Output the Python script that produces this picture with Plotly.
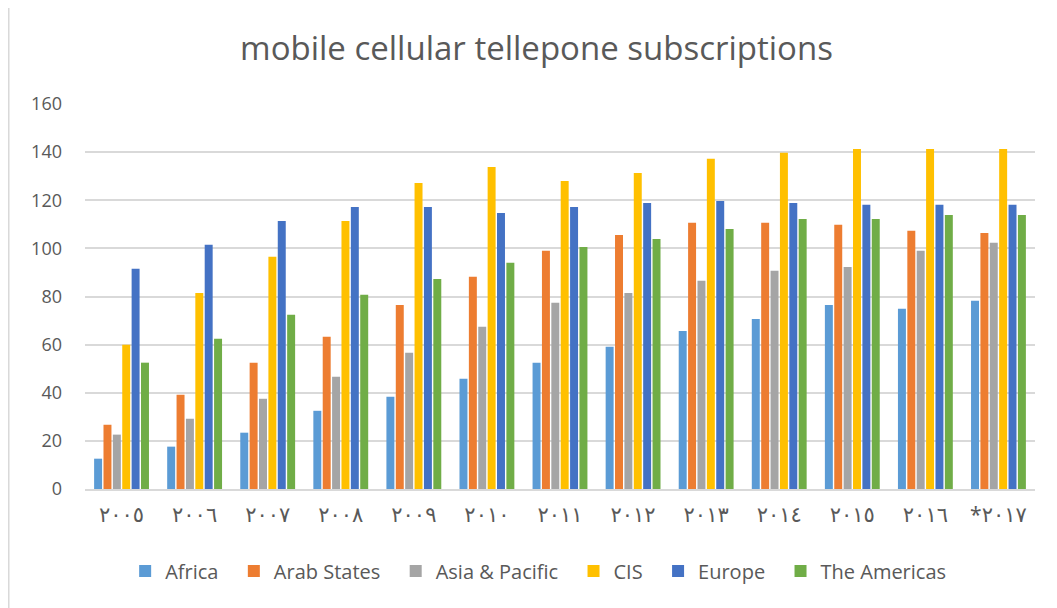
import plotly.graph_objects as go

years = ["٢٠٠٥", "٢٠٠٦", "٢٠٠٧", "٢٠٠٨", "٢٠٠٩", "٢٠١٠", "٢٠١١", "٢٠١٢",
         "٢٠١٣", "٢٠١٤", "٢٠١٥", "٢٠١٦", "*٢٠١٧"]

africa = [12.6, 17.6, 23.4, 32.5, 38.3, 45.8, 52.5, 59.1, 65.7, 70.7, 76.5, 74.9, 78.2]
arab_states = [26.7, 39.2, 52.5, 63.3, 76.5, 88.2, 99.0, 105.6, 110.6, 110.6, 109.8, 107.3, 106.4]
asia_pacific = [22.6, 29.2, 37.5, 46.6, 56.6, 67.4, 77.4, 81.5, 86.5, 90.7, 92.3, 99.0, 102.3]
cis = [59.9, 81.5, 96.5, 111.4, 127.2, 133.8, 128.0, 131.3, 137.2, 139.7, 141.3, 141.3, 141.3]
europe = [91.5, 101.5, 111.4, 117.2, 117.2, 114.7, 117.2, 118.9, 119.7, 118.9, 118.1, 118.1, 118.1]
americas = [52.5, 62.4, 72.4, 80.7, 87.3, 94.0, 100.6, 103.9, 108.1, 112.2, 112.2, 113.9, 113.9]

series_names = ["Africa", "Arab States", "Asia & Pacific", "CIS", "Europe", "The Americas"]
series_values = [africa, arab_states, asia_pacific, cis, europe, americas]
series_colors = ["#5B9BD5", "#ED7D31", "#A5A5A5", "#FFC000", "#4472C4", "#70AD47"]

fig = go.Figure()
for i, (name, vals, color) in enumerate(zip(series_names, series_values, series_colors)):
    pad = "\u00a0\u00a0" if i < len(series_names) - 1 else ""
    fig.add_trace(go.Bar(x=years, y=vals, name=name + pad, marker_color=color,
                         marker_line_width=0))

font_family = "Open Sans, Noto Sans, sans-serif"
fig.update_layout(
    width=1057, height=608,
    margin=dict(l=77, r=30, t=96, b=127),
    paper_bgcolor="white", plot_bgcolor="white",
    barmode="group", bargap=0.23, bargroupgap=0.15,
    title=dict(text="mobile cellular tellepone subscriptions",
               x=0.5, xanchor="center", xref="container",
               y=1 - 40 / 608, yanchor="middle", yref="container",
               font=dict(family=font_family, size=33, color="#595959")),
    font=dict(family=font_family, color="#595959"),
    xaxis=dict(showgrid=False, showline=True, linecolor="#d9d9d9", linewidth=1.5,
               tickfont=dict(size=21, color="#595959", family="Noto Sans, DejaVu Sans"),
               ticks="", ticklabelstandoff=6),
    yaxis=dict(range=[0, 160], dtick=20, showgrid=True, gridcolor="#d9d9d9",
               gridwidth=1.5, zeroline=False, showline=False,
               tickfont=dict(size=18, color="#595959"), ticks="",
               ticklabelstandoff=22),
    legend=dict(orientation="h", x=0.477, xanchor="center", y=-0.213,
                yanchor="middle", font=dict(size=20, color="#595959"),
                itemwidth=30, traceorder="normal"),
    shapes=[
        dict(type="line", xref="paper", yref="paper",
             x0=-0.0805, x1=-0.0805, y0=1.25, y1=-0.35,
             line=dict(color="#d9d9d9", width=2)),
    ],
)

fig.write_html("out.html")
